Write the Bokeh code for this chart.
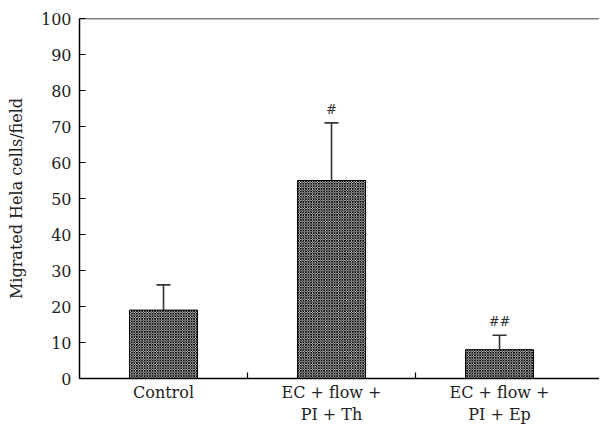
from bokeh.plotting import figure
from bokeh.models import FixedTicker, Span, Whisker, ColumnDataSource, TeeHead
from bokeh.core.properties import value
from bokeh.embed import file_html
from bokeh.resources import INLINE

categories = ["Control", "EC + flow +\nPI + Th", "EC + flow +\nPI + Ep"]
means = [19, 55, 8]
errors = [7, 16, 4]
marks = ["", "#", "##"]
y_ticks = [0, 10, 20, 30, 40, 50, 60, 70, 80, 90, 100]

FONT = "DejaVu Serif"

xpos = [i + 0.5 for i in range(len(categories))]
upper = [m + e for m, e in zip(means, errors)]

src = ColumnDataSource(dict(x=xpos, top=means, upper=upper, marks=marks))

p = figure(width=599, height=427, output_backend="svg", toolbar_location=None,
           x_range=(0, 3.095), y_range=(0, 100),
           min_border_left=79, min_border_right=0, min_border_top=18, min_border_bottom=47)
p.outline_line_color = None
p.grid.grid_line_color = None
p.background_fill_color = "white"

p.vbar(x="x", top="top", bottom=0, width=0.405, source=src,
       fill_color="white", line_color="black", line_width=1,
       hatch_pattern="diagonal_cross", hatch_color="black", hatch_scale=2.6, hatch_weight=1.0)

w = Whisker(base="x", lower="top", upper="upper", source=src, dimension="height",
            line_color="#333333", line_width=1.6,
            upper_head=TeeHead(size=14, line_width=1.6, line_color="#333333"), lower_head=None)
p.add_layout(w)

p.text(x="x", y="upper", text="marks", source=src, text_align="center", text_baseline="bottom",
       y_offset=-6, text_font=value(FONT), text_font_size="13px", text_color="#333333")

p.add_layout(Span(location=100, dimension="width", line_color="black", line_width=1.5))

# y axis
ya = p.yaxis[0]
ya.ticker = FixedTicker(ticks=y_ticks)
ya.major_tick_in = 6
ya.major_tick_out = 0
ya.minor_tick_line_color = None
ya.axis_line_width = 1.5
ya.major_label_text_font = FONT
ya.major_label_text_font_size = "16px"
ya.major_label_text_color = "#222222"
ya.axis_label = "Migrated Hela cells/field"
ya.axis_label_text_font = FONT
ya.axis_label_text_font_size = "16px"
ya.axis_label_text_font_style = "normal"
ya.axis_label_text_color = "#222222"
ya.axis_label_standoff = 12
ya.major_label_standoff = 8

# x axis
xa = p.xaxis[0]
xa.ticker = FixedTicker(ticks=xpos, minor_ticks=[1, 2])
xa.major_label_overrides = {x: c for x, c in zip(xpos, categories)}
xa.major_tick_in = 0
xa.major_tick_out = 0
xa.minor_tick_in = 6
xa.minor_tick_out = 0
xa.minor_tick_line_width = 1.2
xa.axis_line_width = 1.5
xa.major_label_text_font = FONT
xa.major_label_text_font_size = "16px"
xa.major_label_text_color = "#222222"
xa.major_label_standoff = 4

open("out.html", "w").write(file_html(p, INLINE))
